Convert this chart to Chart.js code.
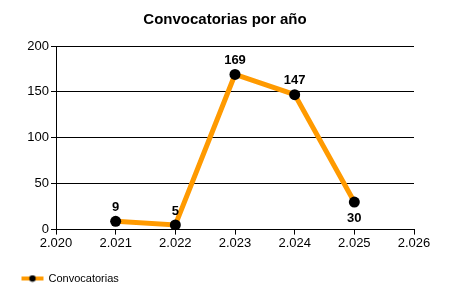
<!DOCTYPE html>
<html lang="es">
<head>
<meta charset="UTF-8">
<title>Convocatorias por año</title>
<script src="https://cdn.jsdelivr.net/npm/chart.js@4.4.0/dist/chart.umd.min.js"></script>
<style>
  html, body { margin: 0; padding: 0; background: #fff; }
  #wrap { width: 450px; height: 300px; }
</style>
</head>
<body>
<div id="wrap"><canvas id="chart" width="450" height="300"></canvas></div>
<script>
const years = [2021, 2022, 2023, 2024, 2025];
const convocatorias = [9, 5, 169, 147, 30];
const labelBelow = [false, false, false, false, true];

const orange = '#FF9A00';
const fontFamily = '"Liberation Sans", Arial, sans-serif';

// legend sample: orange line with a black dot (left part transparent)
const legendIcon = document.createElement('canvas');
legendIcon.width = 46;
legendIcon.height = 8;
(function () {
    const c = legendIcon.getContext('2d');
    c.fillStyle = orange;
    c.fillRect(18, 2, 22, 4);
    c.fillStyle = '#000';
    c.beginPath();
    c.arc(29, 4, 3.2, 0, Math.PI * 2);
    c.fill();
})();

function fmtYear(v) {
    const s = String(v);
    return s.length > 3 ? s.slice(0, s.length - 3) + '.' + s.slice(-3) : s;
}

const valueLabels = {
    id: 'valueLabels',
    afterDatasetsDraw(chart) {
        const ctx = chart.ctx;
        const meta = chart.getDatasetMeta(0);
        ctx.save();
        ctx.font = 'bold 13px ' + fontFamily;
        ctx.fillStyle = '#000';
        ctx.textAlign = 'center';
        ctx.textBaseline = 'middle';
        meta.data.forEach((pt, i) => {
            const dy = labelBelow[i] ? 16 : -14;
            ctx.fillText(String(convocatorias[i]), pt.x, pt.y + dy);
        });
        ctx.restore();
    }
};

new Chart(document.getElementById('chart'), {
    type: 'line',
    data: {
        datasets: [{
            label: 'Convocatorias',
            data: years.map((y, i) => ({ x: y, y: convocatorias[i] })),
            borderColor: orange,
            backgroundColor: '#000',
            borderWidth: 5,
            pointRadius: 5.5,
            pointBackgroundColor: '#000',
            pointBorderWidth: 0,
            pointStyle: 'circle',
            tension: 0
        }]
    },
    options: {
        responsive: false,
        animation: false,
        layout: { padding: { left: 0, right: 0, top: 0, bottom: 6 } },
        plugins: {
            title: {
                display: true,
                text: 'Convocatorias por año',
                color: '#000',
                font: { family: fontFamily, size: 15, weight: 'bold' },
                padding: { top: 11, bottom: 17 }
            },
            legend: {
                display: true,
                position: 'bottom',
                align: 'start',
                labels: {
                    color: '#000',
                    font: { family: fontFamily, size: 11 },
                    usePointStyle: true,
                    pointStyle: legendIcon,
                    pointStyleWidth: 33,
                    padding: 10,
                    generateLabels: () => [{
                        text: 'Convocatorias',
                        pointStyle: legendIcon,
                        fillStyle: orange,
                        strokeStyle: orange,
                        lineWidth: 0,
                        datasetIndex: 0
                    }]
                }
            },
            tooltip: { enabled: false }
        },
        scales: {
            x: {
                type: 'linear',
                min: 2020,
                max: 2026,
                ticks: {
                    stepSize: 1,
                    color: '#000',
                    font: { family: fontFamily, size: 13 },
                    padding: 1,
                    maxRotation: 0,
                    callback: v => fmtYear(v)
                },
                // blank title only keeps a gap above the legend
                title: { display: true, text: ' ', font: { size: 9 }, padding: 0 },
                grid: { drawOnChartArea: false, drawTicks: true, tickLength: 5, color: '#000' },
                border: { display: true, color: '#000', width: 1 }
            },
            y: {
                min: 0,
                max: 200,
                afterFit: scale => { scale.width = 56; },
                ticks: {
                    stepSize: 50,
                    color: '#000',
                    font: { family: fontFamily, size: 13 },
                    padding: 2
                },
                grid: { color: '#000', drawTicks: true, tickLength: 5 },
                border: { display: true, color: '#000', width: 1 }
            },
            // empty right-hand axis, only reserves space right of the plot
            yRight: {
                position: 'right',
                display: true,
                ticks: { display: false },
                grid: { display: false, drawTicks: false },
                border: { display: false },
                afterFit: scale => { scale.width = 36; }
            }
        }
    },
    plugins: [valueLabels]
});
</script>
</body>
</html>
